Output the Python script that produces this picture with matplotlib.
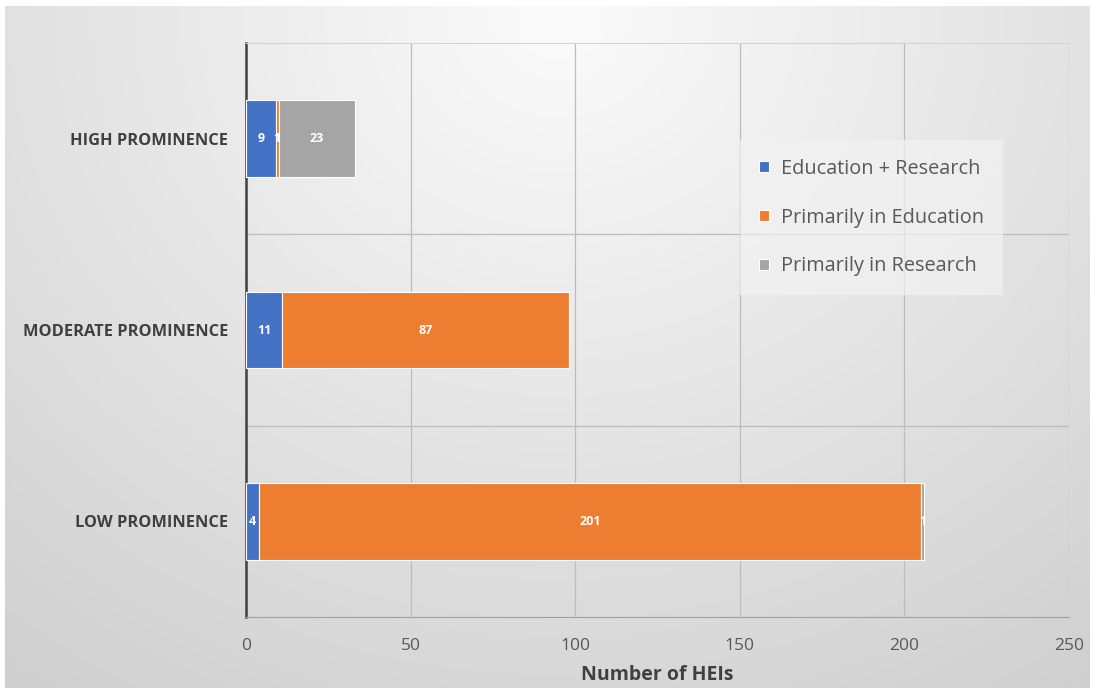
import numpy as np
import matplotlib.pyplot as plt

plt.rcParams['font.family'] = ['Open Sans', 'DejaVu Sans']

# Data (bottom to top)
categories = ['LOW PROMINENCE', 'MODERATE PROMINENCE', 'HIGH PROMINENCE']
edu_research = [4, 11, 9]
primarily_edu = [201, 87, 1]
primarily_res = [1, 0, 23]
series_names = ['Education + Research', 'Primarily in Education', 'Primarily in Research']
colors = ['#4472C4', '#ED7D31', '#A5A5A5']
x_ticks = [0, 50, 100, 150, 200, 250]

fig = plt.figure(figsize=(10.93, 6.88), dpi=100)

# gradient background (light centre top, grey edges)
bg = fig.add_axes([0, 0, 1, 1], zorder=-10)
H, W = 688, 1093
yy, xx = np.mgrid[0:H, 0:W]
d = np.sqrt(((xx - 560) / 700.0) ** 2 + ((yy - 20) / 620.0) ** 2)
val = 0.985 - 0.17 * np.clip(d, 0, 1.3) / 1.3
img = np.dstack([val, val, val])
img[:6, :] = 1.0
img[:, :5] = 1.0
img[:, -3:] = 1.0
bg.imshow(img, aspect='auto', extent=[0, 1, 0, 1], origin='upper')
bg.axis('off')

ax = fig.add_axes([246 / W, 1 - 617 / H, (1069 - 246) / W, (617 - 43) / H])
ax.set_facecolor('none')

y = np.arange(len(categories))
left = np.zeros(len(categories))
for vals, name, c in zip([edu_research, primarily_edu, primarily_res], series_names, colors):
    bars = ax.barh(y, vals, left=left, height=0.4, color=c, edgecolor='white',
                   linewidth=0.8, label=name, zorder=3)
    for b, v in zip(bars, vals):
        if v > 0:
            ax.text(b.get_x() + b.get_width() / 2, b.get_y() + b.get_height() / 2, str(v),
                    ha='center', va='center', color='white', fontsize=9,
                    fontweight='bold', zorder=4)
    left += np.array(vals)

ax.set_xlim(0, 250)
ax.set_ylim(-0.5, 2.5)
ax.set_xticks(x_ticks)
ax.set_yticks(y)
ax.set_yticklabels(categories, fontsize=11.8, fontweight='bold', color='#404040')
ax.tick_params(axis='x', labelsize=12.5, colors='#595959', length=0, pad=15)
ax.tick_params(axis='y', length=0, pad=13)
ax.set_yticks([0.5, 1.5], minor=True)
ax.tick_params(axis='y', which='minor', length=0)
ax.grid(axis='x', color='#bcbcbc', linewidth=0.9, zorder=0)
ax.grid(axis='y', which='minor', color='#bcbcbc', linewidth=0.9, zorder=0)
ax.spines['right'].set_visible(False)
ax.spines['top'].set_color('#d4d4d4')
ax.spines['bottom'].set_color('#a0a0a0')
ax.spines['left'].set_color('#404040')
ax.spines['left'].set_linewidth(1.8)
ax.set_xlabel('Number of HEIs', fontsize=14, fontweight='bold', color='#404040', labelpad=8)

leg = ax.legend(loc='upper left', bbox_to_anchor=((740 - 246) / (1069 - 246), (617 - 140) / (617 - 43)),
                fontsize=14.3, frameon=True, handlelength=0.5, handleheight=0.5,
                labelspacing=1.45, borderpad=0.95, handletextpad=0.6, borderaxespad=0)
leg.get_frame().set_facecolor('#f2f2f2')
leg.get_frame().set_alpha(0.7)
leg.get_frame().set_edgecolor('none')
leg.get_frame().set_boxstyle('square', pad=0)
for t in leg.get_texts():
    t.set_color('#595959')

fig.savefig('out.png', dpi=100)
